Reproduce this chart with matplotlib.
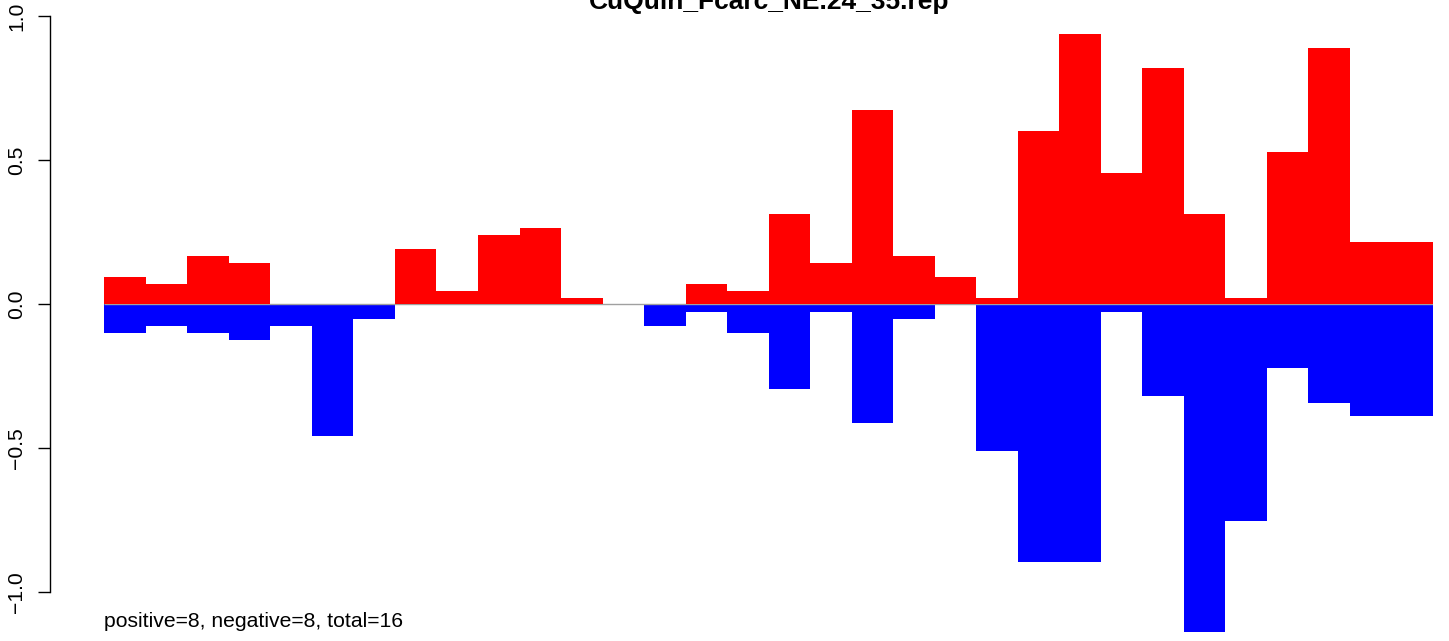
import numpy as np
from matplotlib import pyplot as plt

plt.rcParams['font.family'] = ['Liberation Sans', 'DejaVu Sans']

# values, one entry per bin
pos_vals = [0.095, 0.071, 0.168, 0.144, 0.0, 0.0, 0.0, 0.193,
            0.047, 0.241, 0.265, 0.023, 0.0, 0.0, 0.071, 0.047,
            0.314, 0.144, 0.675, 0.168, 0.095, 0.023, 0.602, 0.939,
            0.456, 0.821, 0.314, 0.023, 0.529, 0.890, 0.217, 0.217]
neg_vals = [-0.099, -0.075, -0.099, -0.123, -0.075, -0.459, -0.050, 0.0,
            0.0, 0.0, 0.0, 0.0, 0.0, -0.075, -0.026, -0.099,
            -0.293, -0.026, -0.411, -0.050, 0.0, -0.508, -0.894, -0.894,
            -0.026, -0.318, -1.137, -0.752, -0.220, -0.342, -0.387, -0.387]
title = "CuQuin_Fcarc_NE.24_35.rep"
yticks = [-1.0, -0.5, 0.0, 0.5, 1.0]
n_pos, n_neg = 8, 8

W, H = 1449, 641
fig = plt.figure(figsize=(W / 100, H / 100), dpi=100)
left, right = 104.3, 1433.0
ax = fig.add_axes([left / W, 0, (right - left) / W, 1])

x = np.arange(len(pos_vals))
ax.bar(x, neg_vals, width=1, align='edge', color='#0000ff',
       linewidth=0, antialiased=False, zorder=2)
ax.hlines(0, 0, len(pos_vals), color='#a0a0a0', linewidth=1.0, zorder=2.5)
ax.bar(x, pos_vals, width=1, align='edge', color='#ff0000',
       linewidth=0, antialiased=False, zorder=3)

# pixel mapping: 0 at y=304.2, 1 unit = 288.2 px
ax.set_xlim(0, len(pos_vals))
ax.set_ylim((304.2 - H) / 288.2, 304.2 / 288.2)

for s in ['top', 'right', 'bottom']:
    ax.spines[s].set_visible(False)
ax.spines['left'].set_position(('outward', (left - 50) * 0.72))
ax.spines['left'].set_bounds(-1, 1)
ax.spines['left'].set_linewidth(1.0)
ax.set_xticks([])
ax.set_yticks(yticks)
ax.set_yticklabels(['%.1f' % v if v >= 0 else '\u2212%.1f' % -v for v in yticks])
ax.tick_params(axis='y', length=8.6, width=1.0, pad=8.4,
               labelsize=15.2, labelrotation=90)
for lab in ax.get_yticklabels():
    lab.set_va('center')

fig.text((left + right) / 2 / W, (H - 9) / H, title, ha='center',
         va='baseline', fontsize=19, fontweight='bold')
fig.text(left / W, (H - 627) / H,
         'positive=%d, negative=%d, total=%d' % (n_pos, n_neg, n_pos + n_neg),
         ha='left', va='baseline', fontsize=15.2)

plt.savefig('out.png', dpi=100)
